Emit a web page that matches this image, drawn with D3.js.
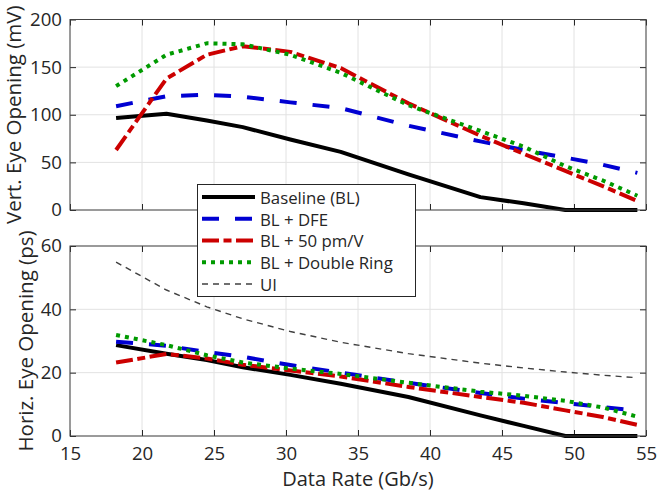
<!DOCTYPE html>
<html>
<head>
<meta charset="utf-8">
<script src="https://cdn.jsdelivr.net/npm/d3@7"></script>
<style>
    body { margin: 0; background: #fff; }
    svg text { font-family: "Open Sans", sans-serif; }
</style>
</head>
<body>
<svg id="chart" width="658" height="491"></svg>
<script>
// data rates (Gb/s) where the curves were sampled
var rates = [18.2, 21.7, 24.5, 27.0, 30.3, 33.8, 38.5, 43.5, 46.5, 49.4, 52.0, 54.4];

// vertical eye opening (mV)
var vertBaseline = [96.5, 101, 94, 87, 74, 61, 37.5, 13.5, 7, 0, 0, 0];
var vertDfe = [109, 119.5, 121, 119, 113, 107, 88.5, 72, 63, 55, 47.5, 39];
var vert50pm = [63, 138, 163, 172, 166, 149, 112, 78, 59, 41, 25, 9.5];
var vertRing = [130, 163, 175, 174, 163, 144, 110, 83, 66.5, 46, 31, 15];

// horizontal eye opening (ps)
var horizBaseline = [28.7, 26, 24, 21.7, 19.3, 16.5, 12.3, 6.5, 3.2, 0, 0, 0];
var horizDfe = [29.8, 28.5, 26.5, 25, 22.4, 20, 16.8, 13.6, 11.8, 10.4, 9.1, 8];
var horiz50pm = [23.2, 25.9, 24.5, 22.5, 20.7, 18.8, 15.5, 12.3, 10.5, 8.1, 6, 3.5];
var horizRing = [31.9, 28.7, 25.5, 23.2, 21.3, 19.6, 16.8, 14, 12.7, 11.1, 9, 6.1];
var uiPeriod = [54.9, 46.1, 40.8, 37.0, 33.0, 29.6, 26.0, 23.0, 21.5, 20.2, 19.2, 18.4];

var seriesNames = ["Baseline (BL)", "BL + DFE", "BL + 50 pm/V", "BL + Double Ring", "UI"];
var xTicks = [15, 20, 25, 30, 35, 40, 45, 50, 55];
var vertTicks = [0, 50, 100, 150, 200];
var horizTicks = [0, 20, 40, 60];

// line look for each series
var styles = [
    {col: "#000000", w: 4, dash: null},
    {col: "#0000d2", w: 4, dash: "17,16"},
    {col: "#cc0000", w: 4, dash: "17,4.5,8,4.5"},
    {col: "#009a00", w: 4, dash: "4,5"},
    {col: "#404040", w: 1.4, dash: "6,5"}
];

var axisCol = "#262626";
var tickFont = 18.6;

var svg = d3.select("#chart");
var left = 70, right = 646;

var x = d3.scaleLinear().domain([15, 55]).range([left, right]);

function panel(top, bottom, ymax, yticks, series, label, labelX, showX) {
    var y = d3.scaleLinear().domain([0, ymax]).range([bottom, top]);
    var g = svg.append("g");

    // grid
    g.selectAll(".gx").data(xTicks).join("line")
        .attr("x1", d => x(d)).attr("x2", d => x(d))
        .attr("y1", top).attr("y2", bottom)
        .attr("stroke", "#e2e2e2");
    g.selectAll(".gy").data(yticks).join("line")
        .attr("x1", left).attr("x2", right)
        .attr("y1", d => y(d)).attr("y2", d => y(d))
        .attr("stroke", "#e2e2e2");

    // axes with inward ticks
    g.append("g").attr("transform", "translate(0," + bottom + ")")
        .call(d3.axisBottom(x).tickValues(xTicks).tickSizeInner(-6).tickSizeOuter(0).tickPadding(11)
            .tickFormat(showX ? d3.format("d") : ""));
    g.append("g").attr("transform", "translate(0," + top + ")")
        .call(d3.axisTop(x).tickValues(xTicks).tickSizeInner(-6).tickSizeOuter(0).tickFormat(""));
    g.append("g").attr("transform", "translate(" + left + ",0)")
        .call(d3.axisLeft(y).tickValues(yticks).tickSizeInner(-6).tickSizeOuter(0).tickPadding(8));
    g.append("g").attr("transform", "translate(" + right + ",0)")
        .call(d3.axisRight(y).tickValues(yticks).tickSizeInner(-6).tickSizeOuter(0).tickFormat(""));

    g.selectAll(".domain").remove();
    g.selectAll(".tick line").attr("stroke", axisCol);
    g.selectAll(".tick text").attr("fill", axisCol)
        .attr("font-size", tickFont).attr("font-family", "Open Sans");

    // data lines
    var line = d3.line().x((d, i) => x(rates[i])).y(d => y(d));
    series.forEach(function(s, k) {
        var st = styles[k];
        g.append("path")
            .attr("d", line(s))
            .attr("fill", "none")
            .attr("stroke", st.col)
            .attr("stroke-width", st.w)
            .attr("stroke-linejoin", "round")
            .attr("stroke-dasharray", st.dash);
    });

    g.append("rect")
        .attr("x", left).attr("y", top)
        .attr("width", right - left).attr("height", bottom - top)
        .attr("fill", "none").attr("stroke", "#444").attr("stroke-width", 1);

    g.append("text")
        .attr("transform", "translate(" + labelX + "," + ((top + bottom) / 2) + ") rotate(-90)")
        .attr("text-anchor", "middle")
        .attr("dy", "0.35em")
        .attr("font-size", 20.5)
        .attr("fill", axisCol)
        .text(label);
}

panel(19.5, 210, 200, vertTicks, [vertBaseline, vertDfe, vert50pm, vertRing],
    "Vert. Eye Opening (mV)", 14, false);
panel(246, 436, 60, horizTicks, [horizBaseline, horizDfe, horiz50pm, horizRing, uiPeriod],
    "Horiz. Eye Opening (ps)", 26, true);

svg.append("text")
    .attr("x", (left + right) / 2).attr("y", 486)
    .attr("text-anchor", "middle")
    .attr("font-size", 20)
    .attr("fill", axisCol)
    .text("Data Rate (Gb/s)");

// legend
var leg = svg.append("g");
leg.append("rect")
    .attr("x", 197.5).attr("y", 184.5).attr("width", 218).attr("height", 112)
    .attr("fill", "#fff").attr("stroke", axisCol).attr("stroke-width", 1);

var rowY = d3.scalePoint().domain(seriesNames).range([197, 284]);

leg.selectAll(".ll").data(seriesNames).join("line")
    .attr("x1", 202).attr("x2", 255)
    .attr("y1", d => rowY(d)).attr("y2", d => rowY(d))
    .attr("stroke", (d, i) => styles[i].col)
    .attr("stroke-width", (d, i) => styles[i].w)
    .attr("stroke-dasharray", (d, i) => styles[i].dash);

leg.selectAll(".lt").data(seriesNames).join("text")
    .attr("x", 260).attr("y", d => rowY(d) + 1)
    .attr("dy", "0.35em")
    .attr("font-size", 16.8)
    .attr("fill", axisCol)
    .text(d => d);
</script>
</body>
</html>
